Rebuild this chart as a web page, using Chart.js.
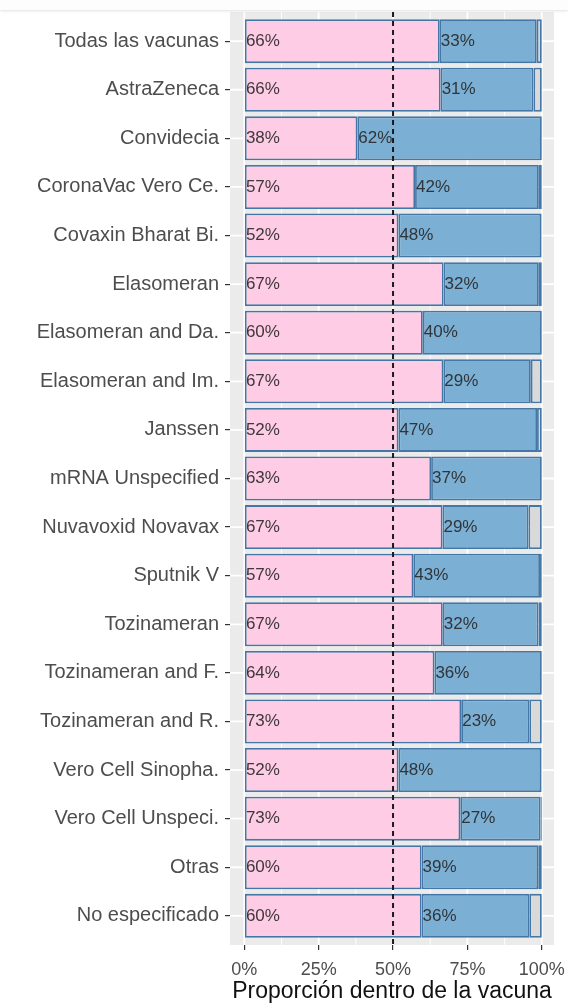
<!DOCTYPE html>
<html>
<head>
<meta charset="utf-8">
<script src="https://cdn.jsdelivr.net/npm/chart.js@4/dist/chart.umd.min.js"></script>
<style>
  html, body { margin: 0; padding: 0; background: #ffffff; }
  #wrap { position: relative; width: 568px; height: 1005px; }
  #topbar { position: absolute; left: 0; top: 0; width: 568px; height: 10px; background: #fdfdfd; box-shadow: 0 1px 3px rgba(0,0,0,0.12); z-index: 2; }
</style>
</head>
<body>
<div id="wrap">
  <div id="topbar"></div>
  <canvas id="chart" width="568" height="1005"></canvas>
</div>
<script>
// Datos (proporción en % dentro de cada vacuna)
const categories = [
  'Todas las vacunas', 'AstraZeneca', 'Convidecia', 'CoronaVac Vero Ce.',
  'Covaxin Bharat Bi.', 'Elasomeran', 'Elasomeran and Da.', 'Elasomeran and Im.',
  'Janssen', 'mRNA Unspecified', 'Nuvavoxid Novavax', 'Sputnik V',
  'Tozinameran', 'Tozinameran and F.', 'Tozinameran and R.', 'Vero Cell Sinopha.',
  'Vero Cell Unspeci.', 'Otras', 'No especificado'
];
const pinkValues = [65.7, 66.0, 38.0, 57.4, 51.8, 67.0, 60.0, 66.9, 51.8, 62.8, 66.6, 56.8, 66.7, 63.9, 72.9, 51.8, 72.6, 59.6, 59.6];
const blueValues = [32.6, 31.2, 62.0, 41.6, 48.0, 32.0, 40.0, 29.4, 46.6, 37.2, 28.9, 42.6, 32.2, 36.1, 22.9, 48.0, 27.0, 39.2, 36.2];
const grayValues = [1.7, 2.8, 0, 1.0, 0.2, 1.0, 0, 3.7, 1.6, 0, 4.5, 0.6, 1.1, 0, 4.2, 0.2, 0.4, 1.2, 4.2];
const xTicks = [0, 25, 50, 75, 100];
const xMinorTicks = [12.5, 37.5, 62.5, 87.5];
const refLine = 50;

const FONT = '"Liberation Sans", Arial, sans-serif';
const toPoints = (arr) => arr.map((v, i) => ({ x: v, y: i }));

// Fondo gris del panel y cuadrícula blanca estilo ggplot
const panelPlugin = {
  id: 'panel',
  beforeDatasetsDraw(chart) {
    const { ctx, chartArea: a, scales: { x, y } } = chart;
    ctx.save();
    ctx.fillStyle = '#ebebeb';
    ctx.fillRect(a.left, a.top, a.right - a.left, a.bottom - a.top);
    ctx.strokeStyle = '#ffffff';
    ctx.lineWidth = 0.9;
    xMinorTicks.forEach(v => {
      const px = x.getPixelForValue(v);
      ctx.beginPath(); ctx.moveTo(px, a.top); ctx.lineTo(px, a.bottom); ctx.stroke();
    });
    ctx.lineWidth = 1.8;
    xTicks.forEach(v => {
      const px = x.getPixelForValue(v);
      ctx.beginPath(); ctx.moveTo(px, a.top); ctx.lineTo(px, a.bottom); ctx.stroke();
    });
    categories.forEach((c, i) => {
      const py = y.getPixelForValue(i);
      ctx.beginPath(); ctx.moveTo(a.left, py); ctx.lineTo(a.right, py); ctx.stroke();
    });
    ctx.restore();
  },
  afterDatasetsDraw(chart) {
    const { ctx, chartArea: a, scales: { x } } = chart;
    ctx.save();
    // línea discontinua al 50%
    const px = x.getPixelForValue(refLine);
    ctx.strokeStyle = '#1a1a1a';
    ctx.lineWidth = 2;
    ctx.setLineDash([5, 4]);
    ctx.beginPath(); ctx.moveTo(px, a.top); ctx.lineTo(px, a.bottom); ctx.stroke();
    ctx.setLineDash([]);
    // etiquetas de porcentaje al inicio de cada segmento
    ctx.font = '17px ' + FONT;
    ctx.fillStyle = 'rgba(40,40,40,0.9)';
    ctx.textAlign = 'left';
    ctx.textBaseline = 'middle';
    [0, 1].forEach(di => {
      const meta = chart.getDatasetMeta(di);
      const values = chart.data.datasets[di].data;
      meta.data.forEach((bar, i) => {
        ctx.fillText(Math.round(values[i].x) + '%', Math.min(bar.base, bar.x) + 1, bar.y);
      });
    });
    ctx.restore();
  }
};

const barStyle = { borderColor: '#4577a6', borderWidth: 1.8, borderSkipped: false, barPercentage: 0.905, categoryPercentage: 1 };

new Chart(document.getElementById('chart'), {
  type: 'bar',
  data: {
    datasets: [
      { label: 'rosa', data: toPoints(pinkValues), backgroundColor: '#ffcce5', ...barStyle },
      { label: 'azul', data: toPoints(blueValues), backgroundColor: '#7bafd4', ...barStyle },
      { label: 'gris', data: toPoints(grayValues), backgroundColor: '#d9d9d9', ...barStyle }
    ]
  },
  options: {
    indexAxis: 'y',
    responsive: false,
    animation: false,
    devicePixelRatio: 1,
    layout: { padding: { top: 12, right: 14, left: 0, bottom: 0 } },
    plugins: { legend: { display: false }, tooltip: { enabled: false } },
    scales: {
      x: {
        type: 'linear', stacked: true, min: -4.8, max: 104.1, offset: false,
        afterBuildTicks: axis => { axis.ticks = xTicks.map(v => ({ value: v })); },
        afterFit: axis => { axis.height = 60; axis.paddingLeft = 0; axis.paddingRight = 0; },
        border: { display: false },
        grid: { offset: false, drawOnChartArea: false, drawTicks: true, tickLength: 5, color: '#333333', lineWidth: 1.2 },
        ticks: { padding: 9, color: '#4d4d4d', font: { family: FONT, size: 18 }, callback: v => v + '%' },
        title: { display: true, text: 'Proporción dentro de la vacuna', color: '#111111', font: { family: FONT, size: 23 }, padding: { top: 0, bottom: 0 } }
      },
      y: {
        type: 'linear', stacked: true, reverse: true, offset: false,
        min: -0.6, max: categories.length - 0.4,
        afterBuildTicks: axis => { axis.ticks = categories.map((c, i) => ({ value: i })); },
        afterFit: axis => { axis.width = 230; axis.paddingTop = 0; axis.paddingBottom = 0; },
        border: { display: false },
        grid: { offset: false, drawOnChartArea: false, drawTicks: true, tickLength: 5, color: '#333333', lineWidth: 1.2 },
        ticks: { padding: 6, color: '#4d4d4d', font: { family: FONT, size: 20 }, callback: v => categories[v] }
      }
    }
  },
  plugins: [panelPlugin]
});
</script>
</body>
</html>
